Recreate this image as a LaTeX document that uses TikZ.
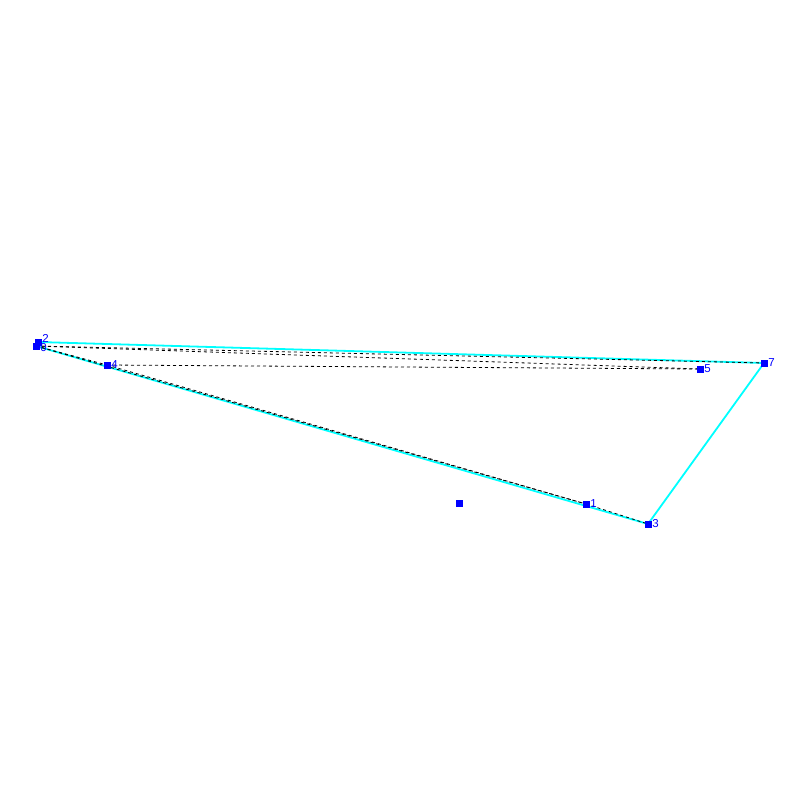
\documentclass[tikz,border=0pt]{standalone}
\usepackage{fontspec}
\setsansfont{Liberation Sans}
\usepackage{tikz}
\usetikzlibrary{positioning,backgrounds}
\definecolor{hullcyan}{RGB}{0,255,255}

\begin{document}
\begin{tikzpicture}[x=1pt,y=-1pt,
		pt/.style={minimum size=7pt, inner sep=0pt, fill=blue},
		lbl/.style={inner sep=0.5pt, text=blue, font=\sffamily\fontsize{11.5}{11.5}\selectfont},
		hull/.style={hullcyan, line width=1.8pt},
		edge/.style={black, dashed, line width=0.8pt}]
		\useasboundingbox (0,0) rectangle (800,800);
		
		\node[pt] (p2) at (38,342) {};
		\node[pt] (p0) at (36,346) {};
		\node[pt] (p4) at (107,365) {};
		\node[pt] (p1) at (586,504) {};
		\node[pt] (p3) at (648,524) {};
		\node[pt] (p5) at (700,369) {};
		\node[pt] (p7) at (764,363) {};
		\node[pt] (c) at (459,503) {};
		
		\node[lbl, right=0pt of p2, yshift=4pt] (l2) {2};
		\node[lbl, right=0pt of p0, yshift=-2pt] (l0) {0};
		\node[lbl, right=0pt of p4] (l4) {4};
		\node[lbl, right=0pt of p1] (l1) {1};
		\node[lbl, right=0pt of p3] (l3) {3};
		\node[lbl, right=0pt of p5] (l5) {5};
		\node[lbl, right=0pt of p7] (l7) {7};
		
		\begin{scope}[on background layer]
		\draw[hull] (p2.center)--(p7.center)--(p3.center)--(p0.center)--cycle;
		
		\draw[edge] (p0.center)--(p7.center);
		\draw[edge] (p0.center)--(p5.center);
		\draw[edge] (p4.center)--(p5.center);
		\draw[edge] (p0.center)--(p4.center);
		\draw[edge] (p0.center)--(p1.center);
		\draw[edge] (p4.center)--(p1.center);
		\draw[edge] (p1.center)--(p3.center);
		\end{scope}
	\end{tikzpicture}
\end{document}
